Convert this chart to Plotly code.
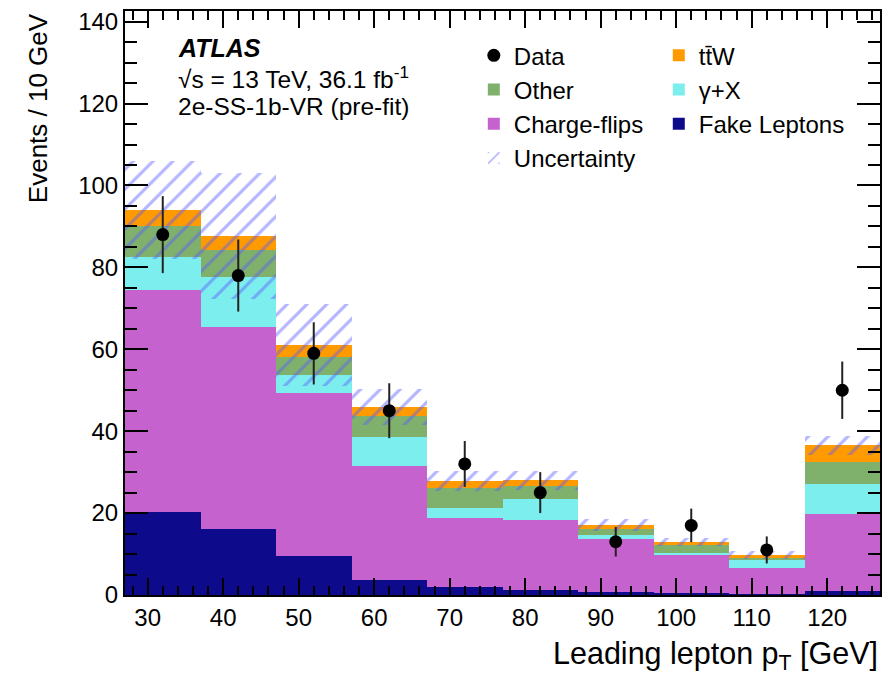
import plotly.graph_objects as go
import numpy as np

# ---- data ----
bin_centers = [32, 42, 52, 62, 72, 82, 92, 102, 112, 122]
bin_width = 10
fake = [20.3, 16.1, 9.5, 3.6, 1.9, 1.3, 0.7, 0.4, 0.3, 1.0]
chargeflip = [54.2, 49.4, 39.8, 27.9, 16.8, 17.0, 12.9, 9.3, 6.4, 18.9]
gammax = [8.0, 12.2, 4.4, 7.1, 2.6, 5.1, 1.1, 0.6, 1.8, 7.3]
other = [7.7, 6.6, 4.5, 5.2, 4.8, 3.2, 1.4, 1.8, 0.6, 5.3]
ttw = [3.8, 3.3, 2.9, 2.2, 1.8, 1.4, 1.0, 0.9, 0.7, 4.1]
unc = [12.0, 15.4, 10.0, 4.4, 2.4, 2.3, 1.4, 1.0, 1.0, 2.3]
data = [88, 78, 59, 45, 32, 25, 13, 17, 11, 50]
data_err = [9.4, 8.8, 7.6, 6.7, 5.6, 5.0, 3.6, 4.1, 3.3, 7.0]

FONT = "Liberation Sans"

components = [
    ("Fake Leptons", fake, "#0e0a8c", "legend2", 3),
    ("Charge-flips", chargeflip, "#c562cd", "legend", 3),
    ("γ+X", gammax, "#7deeee", "legend2", 2),
    ("Other", other, "#7fb06c", "legend", 2),
    ("tt\u0304W", ttw, "#ff9a00", "legend2", 1),
]

fig = go.Figure()
base = np.zeros(len(bin_centers))
for name, vals, col, leg, rank in components:
    v = np.array(vals, dtype=float)
    fig.add_trace(go.Bar(
        x=bin_centers, y=v, base=base.copy(), width=bin_width, name=name,
        marker=dict(color=col, line=dict(width=0)),
        legend=leg, legendrank=rank,
    ))
    base = base + v

total = base
u = np.array(unc)
fig.add_trace(go.Bar(
    x=bin_centers, y=2 * u, base=total - u, width=bin_width, name="Uncertainty",
    marker=dict(color="rgba(0,0,0,0)", line=dict(width=0),
                pattern=dict(shape="/", fgcolor="rgba(90,90,255,0.9)",
                             bgcolor="rgba(0,0,0,0)", size=14, solidity=0.22)),
    legend="legend", legendrank=4,
))

fig.add_trace(go.Scatter(
    x=bin_centers, y=data, mode="markers", name="Data",
    marker=dict(color="black", size=13, symbol="circle"),
    error_y=dict(type="data", array=data_err, visible=True, color="#222222",
                 thickness=2, width=0),
    legend="legend", legendrank=1,
))

ann_font = dict(family=FONT, size=24.5, color="black")
annotations = [
    dict(text="<b><i>ATLAS</i></b>", x=0.0674, y=0.937, xref="paper", yref="paper",
         xanchor="left", yanchor="middle", showarrow=False,
         font=dict(family=FONT, size=25, color="black")),
    dict(text="√s = 13 TeV, 36.1 fb<sup>-1</sup>", x=0.0674, y=0.886, xref="paper", yref="paper",
         xanchor="left", yanchor="middle", showarrow=False, font=ann_font),
    dict(text="2e-SS-1b-VR (pre-fit)", x=0.0674, y=0.837, xref="paper", yref="paper",
         xanchor="left", yanchor="middle", showarrow=False, font=ann_font),
    dict(text="Leading lepton p<sub>T</sub> [GeV]", x=1.0, y=-0.103, xref="paper", yref="paper",
         xanchor="right", yanchor="middle", showarrow=False,
         font=dict(family=FONT, size=30.5, color="black")),
    dict(text="Events / 10 GeV", x=-0.115, y=1.0, xref="paper", yref="paper",
         xanchor="center", yanchor="top", textangle=-90, showarrow=False,
         font=dict(family=FONT, size=26, color="black")),
]

leg_common = dict(bgcolor="rgba(0,0,0,0)", borderwidth=0, yanchor="top", xanchor="left",
                  font=dict(family=FONT, size=24, color="black"), traceorder="normal",
                  orientation="v")

fig.update_layout(
    width=886, height=682,
    margin=dict(l=125, r=4, t=11, b=87),
    plot_bgcolor="white", paper_bgcolor="white",
    barmode="overlay", bargap=0,
    font=dict(family=FONT, size=24, color="black"),
    legend=dict(x=0.462, y=0.962, **leg_common),
    legend2=dict(x=0.707, y=0.962, **leg_common),
    annotations=annotations,
    xaxis=dict(range=[27, 127], tick0=30, dtick=10, ticks="inside", ticklen=17, tickwidth=2,
               tickcolor="black", showline=True, linecolor="black", linewidth=2, mirror="ticks",
               showgrid=False, zeroline=False,
               minor=dict(dtick=2, tick0=30, ticks="inside", ticklen=9, tickwidth=2, tickcolor="black",
                          showgrid=False),
               tickfont=dict(family=FONT, size=24)),
    yaxis=dict(range=[0, 142.6], tick0=0, dtick=20, ticks="inside", ticklen=23, tickwidth=2,
               tickcolor="black", showline=True, linecolor="black", linewidth=2, mirror="ticks",
               showgrid=False, zeroline=False,
               minor=dict(dtick=5, tick0=0, ticks="inside", ticklen=12, tickwidth=2, tickcolor="black",
                          showgrid=False),
               tickfont=dict(family=FONT, size=24)),
)

fig.write_html("out.html")
